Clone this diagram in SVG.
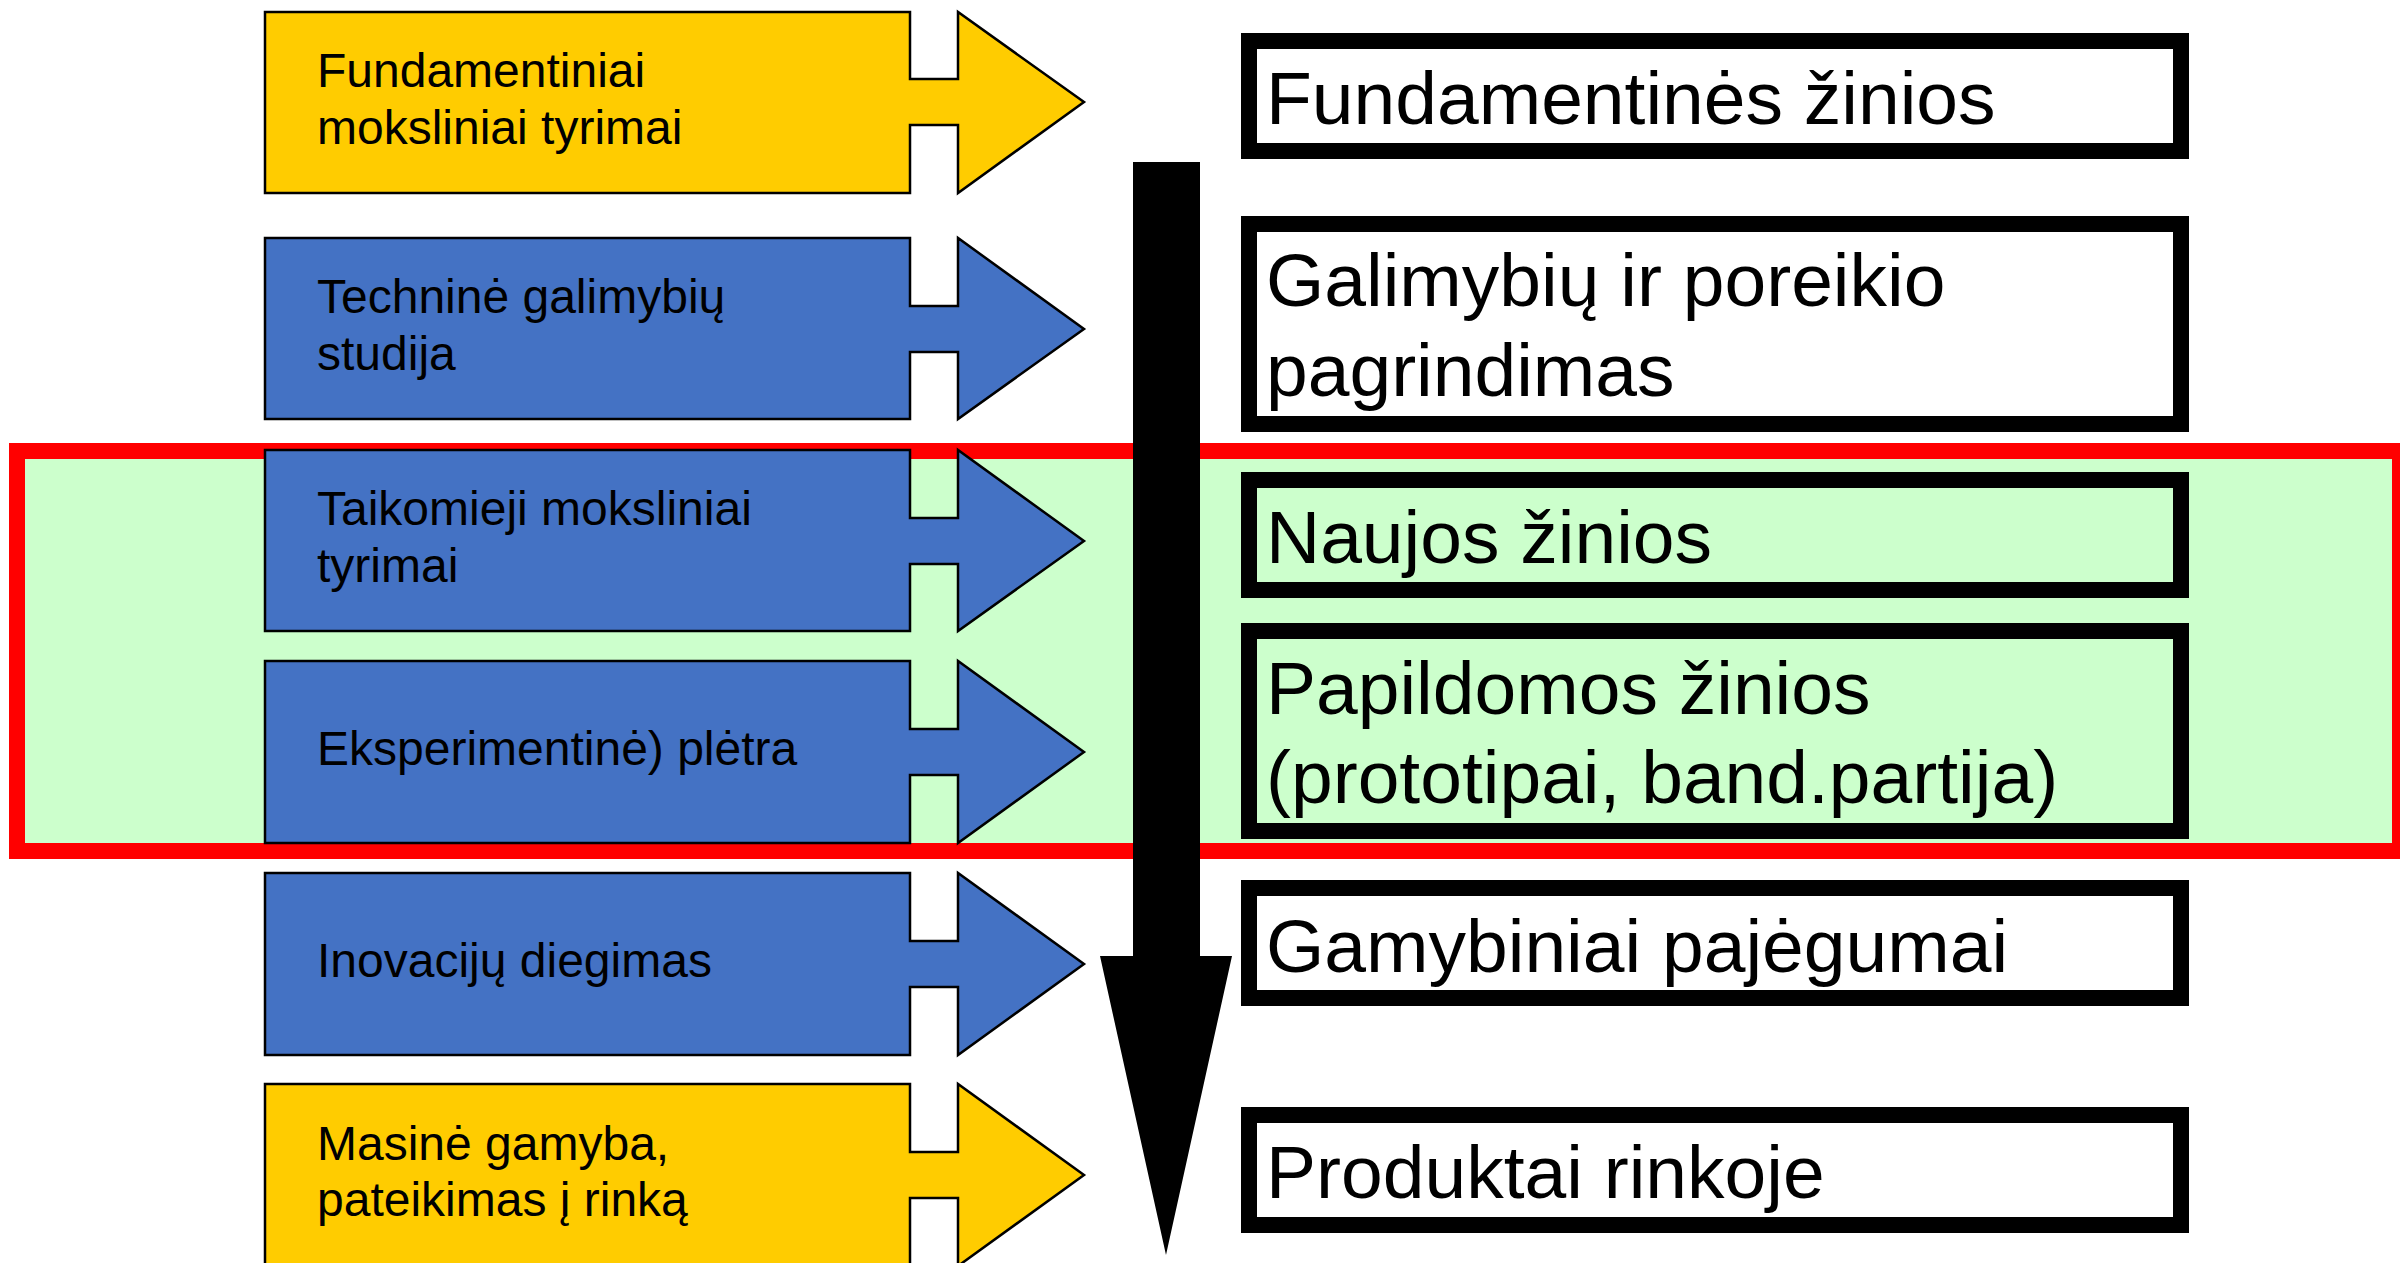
<svg xmlns="http://www.w3.org/2000/svg" width="2400" height="1263" viewBox="0 0 2400 1263">
<style>
.bg{fill:#fff}
.zone{fill:#CCFFCC;stroke:#FF0000;stroke-width:16}
.yel{fill:#FFCC00;stroke:#000;stroke-width:2.5}
.blu{fill:#4472C4;stroke:#000;stroke-width:2.5}
.lt{font-family:"Liberation Sans",Arial,sans-serif;font-size:48px;fill:#000}
.box{fill:#fff;stroke:#000;stroke-width:16}
.boxg{fill:#CCFFCC;stroke:#000;stroke-width:16}
.rt{font-family:"Liberation Sans",Arial,sans-serif;font-size:75px;fill:#000}
.flow{fill:#000}
</style>
<rect class="bg" x="0" y="0" width="2400" height="1263"/>
<rect id="highlight" class="zone" x="17" y="451" width="2383" height="400"/>

<g id="n1"><path class="yel" d="M265,12 H910 V79 H958 V12 L1084,102 L958,193 V125 H910 V193 H265 Z"/>
<text class="lt" x="317" y="87">Fundamentiniai</text><text class="lt" x="317" y="144">moksliniai tyrimai</text></g>
<g id="n2"><path class="blu" d="M265,238 H910 V306 H958 V238 L1084,329 L958,419 V352 H910 V419 H265 Z"/>
<text class="lt" x="317" y="313">Techninė galimybių</text><text class="lt" x="317" y="370">studija</text></g>
<g id="n3"><path class="blu" d="M265,450 H910 V518 H958 V450 L1084,541 L958,631 V564 H910 V631 H265 Z"/>
<text class="lt" x="317" y="525">Taikomieji moksliniai</text><text class="lt" x="317" y="582">tyrimai</text></g>
<g id="n4"><path class="blu" d="M265,661 H910 V729 H958 V661 L1084,752 L958,843 V775 H910 V843 H265 Z"/>
<text class="lt" x="317" y="765">Eksperimentinė) plėtra</text></g>
<g id="n5"><path class="blu" d="M265,873 H910 V941 H958 V873 L1084,964 L958,1055 V987 H910 V1055 H265 Z"/>
<text class="lt" x="317" y="977">Inovacijų diegimas</text></g>
<g id="n6"><path class="yel" d="M265,1084 H910 V1152 H958 V1084 L1084,1175 L958,1266 V1198 H910 V1266 H265 Z"/>
<text class="lt" x="317" y="1160">Masinė gamyba,</text><text class="lt" x="317" y="1216">pateikimas į rinką</text></g>

<g id="r1"><rect class="box" x="1249" y="41" width="932" height="110"/><text class="rt" x="1266" y="124">Fundamentinės žinios</text></g>
<g id="r2"><rect class="box" x="1249" y="224" width="932" height="200"/><text class="rt" x="1266" y="306">Galimybių ir poreikio</text><text class="rt" x="1266" y="396">pagrindimas</text></g>
<g id="r3"><rect class="boxg" x="1249" y="480" width="932" height="110"/><text class="rt" x="1266" y="563">Naujos žinios</text></g>
<g id="r4"><rect class="boxg" x="1249" y="631" width="932" height="200"/><text class="rt" x="1266" y="714">Papildomos žinios</text><text class="rt" x="1266" y="803">(prototipai, band.partija)</text></g>
<g id="r5"><rect class="box" x="1249" y="888" width="932" height="110"/><text class="rt" x="1266" y="972">Gamybiniai pajėgumai</text></g>
<g id="r6"><rect class="box" x="1249" y="1115" width="932" height="110"/><text class="rt" x="1266" y="1198">Produktai rinkoje</text></g>

<g id="connectors"><polygon class="flow" points="1133,162 1200,162 1200,956 1232,956 1166,1255 1100,956 1133,956"/></g>
</svg>
